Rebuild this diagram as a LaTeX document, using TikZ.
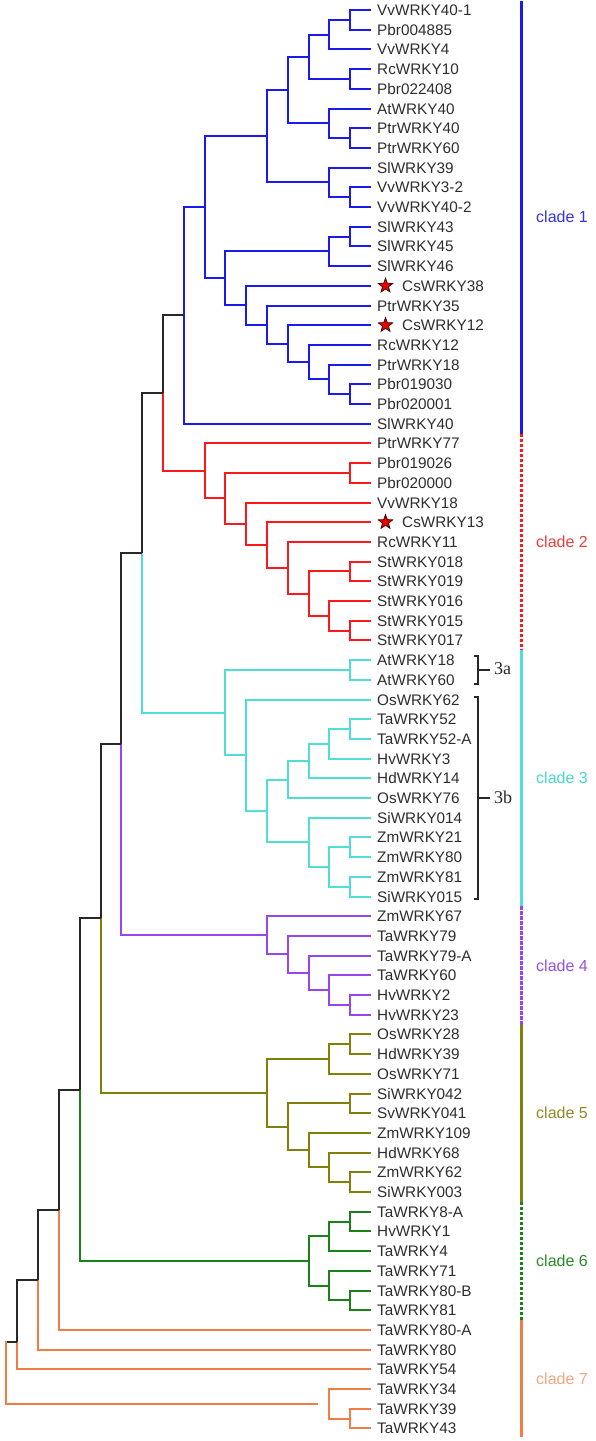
\documentclass[tikz,border=0pt]{standalone}
\usepackage{fontspec}
\setmainfont{Liberation Sans}
\newfontfamily\serifb{Liberation Serif}
\usetikzlibrary{calc,shapes.geometric}
\definecolor{bk}{RGB}{40,40,40}
\definecolor{cA}{RGB}{25,25,240}
\definecolor{cB}{RGB}{252,25,25}
\definecolor{cC}{RGB}{80,222,210}
\definecolor{cD}{RGB}{150,70,235}
\definecolor{cE}{RGB}{128,128,10}
\definecolor{cF}{RGB}{25,130,25}
\definecolor{cG}{RGB}{240,125,70}
\definecolor{lbl}{RGB}{45,45,45}
\definecolor{lA}{RGB}{50,50,230}
\definecolor{lB}{RGB}{240,60,60}
\definecolor{lC}{RGB}{70,215,205}
\definecolor{lD}{RGB}{150,80,225}
\definecolor{lE}{RGB}{140,140,40}
\definecolor{lF}{RGB}{40,140,40}
\definecolor{lG}{RGB}{245,165,130}
\newcommand\cladejoin[5]{%
  \coordinate (tmpmid) at ($(#3)!.5!(#4)$);
  \coordinate (#1) at (h#2 |- tmpmid);
  \draw[br,#5] (#3) -| (#1) |- (#4);
}
\newcommand\bbjoin[6]{%
  \coordinate (tmpmid) at ($(#3)!.5!(#4)$);
  \coordinate (#1) at (h#2 |- tmpmid);
  \draw[br,#5] (#3) -| (#1);
  \draw[br,#6] (#1) |- (#4);
}
\begin{document}
\begin{tikzpicture}[x=1pt,y=-1pt,
  br/.style={line width=2pt},
  bar/.style={line width=3pt},
  dbar/.style={line width=3pt,dash pattern=on 3.3pt off 1.7pt},
  leaf/.style={anchor=west,inner sep=0pt,text=lbl,text height=11pt,text depth=0pt,font={\fontsize{15.3}{16}\selectfont}},
  clab/.style={anchor=west,inner sep=0pt,text height=11.5pt,text depth=0pt,font={\fontsize{16}{18}\selectfont}},
  sbr/.style={line width=1.5pt,bk},
  sublab/.style={anchor=west,inner sep=0pt,text=bk,font={\serifb\fontsize{18}{20}\selectfont}},
  stmark/.style={star,star points=5,star point ratio=2.4,minimum size=15pt,inner sep=0pt,fill=red!92!black,draw=black!75!red,line width=0.8pt}]
\useasboundingbox (0,0) rectangle (596,1441);
\foreach \k in {0,...,17} {\coordinate (h\k) at ({371-20.8*\k},0);}
\foreach \lname/\dx [count=\i from 0] in {VvWRKY40-1/0, Pbr004885/0, VvWRKY4/0, RcWRKY10/0, Pbr022408/0, AtWRKY40/0, PtrWRKY40/0, PtrWRKY60/0, SlWRKY39/0, VvWRKY3-2/0, VvWRKY40-2/0, SlWRKY43/0, SlWRKY45/0, SlWRKY46/0, CsWRKY38/25, PtrWRKY35/0, CsWRKY12/25, RcWRKY12/0, PtrWRKY18/0, Pbr019030/0, Pbr020001/0, SlWRKY40/0, PtrWRKY77/0, Pbr019026/0, Pbr020000/0, VvWRKY18/0, CsWRKY13/25, RcWRKY11/0, StWRKY018/0, StWRKY019/0, StWRKY016/0, StWRKY015/0, StWRKY017/0, AtWRKY18/0, AtWRKY60/0, OsWRKY62/0, TaWRKY52/0, TaWRKY52-A/0, HvWRKY3/0, HdWRKY14/0, OsWRKY76/0, SiWRKY014/0, ZmWRKY21/0, ZmWRKY80/0, ZmWRKY81/0, SiWRKY015/0, ZmWRKY67/0, TaWRKY79/0, TaWRKY79-A/0, TaWRKY60/0, HvWRKY2/0, HvWRKY23/0, OsWRKY28/0, HdWRKY39/0, OsWRKY71/0, SiWRKY042/0, SvWRKY041/0, ZmWRKY109/0, HdWRKY68/0, ZmWRKY62/0, SiWRKY003/0, TaWRKY8-A/0, HvWRKY1/0, TaWRKY4/0, TaWRKY71/0, TaWRKY80-B/0, TaWRKY81/0, TaWRKY80-A/0, TaWRKY80/0, TaWRKY54/0, TaWRKY34/0, TaWRKY39/0, TaWRKY43/0}
{
  \coordinate (t\i) at (371,{10+19.7*\i});
  \node[leaf] (l\i) at ({377+\dx},{10+19.7*\i}) {\lname};
}
\node[stmark] (s14) at ([xshift=14.5pt]t14) {};
\node[stmark] (s16) at ([xshift=14.5pt]t16) {};
\node[stmark] (s26) at ([xshift=14.5pt]t26) {};
% clade 1
\cladejoin{a1}{1}{t0}{t1}{cA}
\cladejoin{a2}{2}{a1}{t2}{cA}
\cladejoin{a3}{1}{t3}{t4}{cA}
\cladejoin{a4}{3}{a2}{a3}{cA}
\cladejoin{a5}{1}{t6}{t7}{cA}
\cladejoin{a6}{2}{t5}{a5}{cA}
\cladejoin{a7}{4}{a4}{a6}{cA}
\cladejoin{a8}{1}{t9}{t10}{cA}
\cladejoin{a9}{2}{t8}{a8}{cA}
\cladejoin{a10}{5}{a7}{a9}{cA}
\cladejoin{a11}{1}{t11}{t12}{cA}
\cladejoin{a12}{2}{a11}{t13}{cA}
\cladejoin{a13}{1}{t19}{t20}{cA}
\cladejoin{a14}{2}{t18}{a13}{cA}
\cladejoin{a15}{3}{t17}{a14}{cA}
\cladejoin{a16}{4}{t16}{a15}{cA}
\cladejoin{a17}{5}{t15}{a16}{cA}
\cladejoin{a18}{6}{t14}{a17}{cA}
\cladejoin{a19}{7}{a12}{a18}{cA}
\cladejoin{a20}{8}{a10}{a19}{cA}
\cladejoin{C1}{9}{a20}{t21}{cA}
% clade 2
\cladejoin{b1}{1}{t31}{t32}{cB}
\cladejoin{b2}{2}{t30}{b1}{cB}
\cladejoin{b3}{1}{t28}{t29}{cB}
\cladejoin{b4}{3}{b3}{b2}{cB}
\cladejoin{b5}{4}{t27}{b4}{cB}
\cladejoin{b6}{5}{t26}{b5}{cB}
\cladejoin{b7}{6}{t25}{b6}{cB}
\cladejoin{b8}{1}{t23}{t24}{cB}
\cladejoin{b9}{7}{b8}{b7}{cB}
\cladejoin{C2}{8}{t22}{b9}{cB}
% clade 3
\cladejoin{p1}{1}{t36}{t37}{cC}
\cladejoin{p2}{2}{p1}{t38}{cC}
\cladejoin{p3}{3}{p2}{t39}{cC}
\cladejoin{p4}{4}{p3}{t40}{cC}
\cladejoin{p5}{1}{t42}{t43}{cC}
\cladejoin{p6}{1}{t44}{t45}{cC}
\cladejoin{p7}{2}{p5}{p6}{cC}
\cladejoin{p8}{3}{t41}{p7}{cC}
\cladejoin{p9}{5}{p4}{p8}{cC}
\cladejoin{p10}{6}{t35}{p9}{cC}
\cladejoin{p11}{1}{t33}{t34}{cC}
\cladejoin{C3}{7}{p11}{p10}{cC}
% clade 4
\cladejoin{q1}{1}{t50}{t51}{cD}
\cladejoin{q2}{2}{t49}{q1}{cD}
\cladejoin{q3}{3}{t48}{q2}{cD}
\cladejoin{q4}{4}{t47}{q3}{cD}
\cladejoin{C4}{5}{t46}{q4}{cD}
% clade 5
\cladejoin{r1}{1}{t52}{t53}{cE}
\cladejoin{r2}{2}{r1}{t54}{cE}
\cladejoin{r3}{1}{t55}{t56}{cE}
\cladejoin{r4}{1}{t59}{t60}{cE}
\cladejoin{r5}{2}{t58}{r4}{cE}
\cladejoin{r6}{3}{t57}{r5}{cE}
\cladejoin{r7}{4}{r3}{r6}{cE}
\cladejoin{C5}{5}{r2}{r7}{cE}
% clade 6
\cladejoin{s1}{1}{t61}{t62}{cF}
\cladejoin{s2}{2}{s1}{t63}{cF}
\cladejoin{s3}{1}{t65}{t66}{cF}
\cladejoin{s4}{2}{t64}{s3}{cF}
\cladejoin{C6}{3}{s2}{s4}{cF}
% clade 7
\cladejoin{u1}{1}{t71}{t72}{cG}
\cladejoin{C7}{2}{t70}{u1}{cG}
% backbone
\bbjoin{N8}{10}{C1}{C2}{bk}{cB}
\bbjoin{N7}{11}{N8}{C3}{bk}{cC}
\bbjoin{N6}{12}{N7}{C4}{bk}{cD}
\bbjoin{N5}{13}{N6}{C5}{bk}{cE}
\bbjoin{N4}{14}{N5}{C6}{bk}{cF}
\bbjoin{N3}{15}{N4}{t67}{bk}{cG}
\bbjoin{N2}{16}{N3}{t68}{bk}{cG}
\coordinate (N1) at (17.4,1342);
\draw[br,bk] (N2) -| (N1);
\draw[br,cG] (N1) |- (t69);
\coordinate (R) at (6,1373);
\coordinate (gx) at (318,0);
\coordinate (gend) at (gx |- C7);
\coordinate (rtop) at (N1 -| R);
\draw[br,bk] (N1) -- (rtop);
\draw[br,cG] ([yshift=1pt]rtop) |- (gend);
% clade bar
\coordinate (b0) at (521,1);
\coordinate (b1) at (521,433.55);
\coordinate (b2) at (521,650.25);
\coordinate (b3) at (521,906.35);
\coordinate (b4) at (521,1024.55);
\coordinate (b5) at (521,1201.85);
\coordinate (b6) at (521,1320.05);
\coordinate (b7) at (521,1437);
\draw[bar,cA] (b0) -- (b1);
\draw[dbar,cB] (b1) -- (b2);
\draw[bar,cC] (b2) -- (b3);
\draw[dbar,cD] (b3) -- (b4);
\draw[bar,cE] (b4) -- (b5);
\draw[dbar,cF] (b5) -- (b6);
\draw[bar,cG] (b6) -- (b7);
\node[clab,text=lA] (k1) at (536,217) {clade 1};
\node[clab,text=lB] (k2) at (536,542) {clade 2};
\node[clab,text=lC] (k3) at (536,778) {clade 3};
\node[clab,text=lD] (k4) at (536,965.5) {clade 4};
\node[clab,text=lE] (k5) at (536,1113) {clade 5};
\node[clab,text=lF] (k6) at (536,1261) {clade 6};
\node[clab,text=lG] (k7) at (536,1378.5) {clade 7};
% sub-clade brackets
\draw[sbr] (474,656) -- (478,656) -- (478,684) -- (474,684);
\draw[sbr] (478,670) -- (490,670);
\node[sublab] (g3a) at (494,669) {3a};
\draw[sbr] (474,697) -- (478,697) -- (478,899) -- (474,899);
\draw[sbr] (478,798) -- (490,798);
\node[sublab] (g3b) at (494,797) {3b};
\end{tikzpicture}
\end{document}
